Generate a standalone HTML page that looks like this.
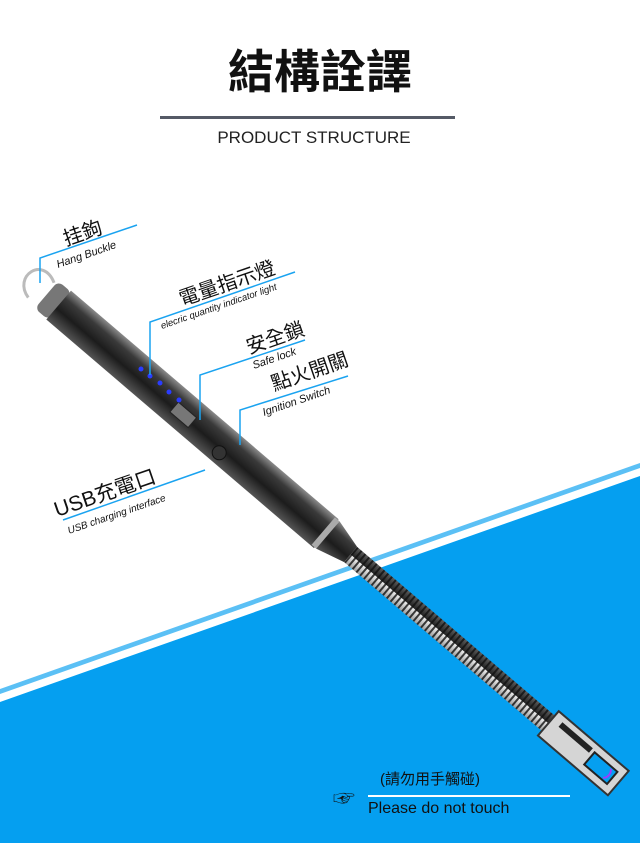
<!DOCTYPE html>
<html><head><meta charset="utf-8"><style>
body{margin:0;width:640px;height:848px;overflow:hidden;background:#fff;font-family:"Liberation Sans","Noto Sans CJK TC",sans-serif}
</style></head><body>
<svg width="640" height="848" viewBox="0 0 640 848" xmlns="http://www.w3.org/2000/svg">
<defs>
<linearGradient id="bd" x1="0" y1="0" x2="0" y2="1">
<stop offset="0" stop-color="#8a8a8a"/><stop offset="0.25" stop-color="#3a3a3a"/><stop offset="0.6" stop-color="#1c1c1c"/><stop offset="1" stop-color="#555"/></linearGradient>
<linearGradient id="sp" x1="0" y1="0" x2="0" y2="1">
<stop offset="0" stop-color="#eee"/><stop offset="0.5" stop-color="#777"/><stop offset="1" stop-color="#222"/></linearGradient>
<pattern id="coil" width="5" height="30" patternUnits="userSpaceOnUse">
<rect width="5" height="30" fill="url(#sp)"/><rect x="3" width="2" height="30" fill="#111" opacity="0.8"/></pattern>
</defs>
<polygon points="0,689 640,463 640,468 0,694" fill="#5bc0f5"/>
<polygon points="0,702 640,476 640,843 0,843" fill="#059ff0"/>
<text x="320" y="88" text-anchor="middle" font-size="46" font-weight="bold" fill="#111">結構詮譯</text>
<rect x="160" y="116" width="295" height="3" fill="#555a66"/>
<text x="314" y="143" text-anchor="middle" font-size="17" fill="#222">PRODUCT STRUCTURE</text>
<g transform="translate(48,296) rotate(40.5)">
<path d="M-4,-14 C-30,-28 -40,8 -14,14" fill="none" stroke="#bbb" stroke-width="3"/>
<rect x="-2" y="-18" width="18" height="36" rx="6" fill="#777"/>
<rect x="14" y="-19" width="352" height="38" fill="url(#bd)"/>
<rect x="362" y="-18" width="6" height="36" fill="#aaa"/>
<polygon points="368,-18 398,-10 398,10 368,18" fill="url(#bd)"/>
<rect x="398" y="-10" width="262" height="20" fill="url(#coil)"/>
<rect x="658" y="-16" width="92" height="32" fill="#d5d5d5" stroke="#333" stroke-width="2"/>
<rect x="668" y="-10" width="40" height="6" fill="#222"/>
<rect x="712" y="-8" width="30" height="16" fill="#059ff0" stroke="#222" stroke-width="2"/>
<path d="M735,-6 a8,8 0 0 1 0,12" stroke="#9b3cff" stroke-width="2" fill="none"/>
<rect x="168" y="-4" width="24" height="13" fill="#777" stroke="#222"/>
<circle cx="232" cy="8" r="7" fill="#333" stroke="#111"/>
</g>
<g fill="#2a3cff"><circle cx="141" cy="369" r="2.5"/><circle cx="150" cy="376" r="2.5"/><circle cx="160" cy="383" r="2.5"/><circle cx="169" cy="392" r="2.5"/><circle cx="179" cy="400" r="2.5"/></g>
<g stroke="#1aa3f0" stroke-width="1.5" fill="none">
<polyline points="40,283 40,258 137,225"/>
<polyline points="150,375 150,322 295,272"/>
<polyline points="200,420 200,375 305,340"/>
<polyline points="240,445 240,410 348,376"/>
<line x1="205" y1="470" x2="63" y2="520"/>
</g>
<g fill="#111">
<text transform="translate(66,246) rotate(-19)" font-size="20">挂鉤</text>
<text transform="translate(58,268) rotate(-19)" font-size="11" font-style="italic">Hang Buckle</text>
<text transform="translate(182,306) rotate(-19)" font-size="20">電量指示燈</text>
<text transform="translate(162,329) rotate(-19)" font-size="9.5" font-style="italic">elecric quantity indicator light</text>
<text transform="translate(249,354) rotate(-19)" font-size="20">安全鎖</text>
<text transform="translate(254,369) rotate(-19)" font-size="11" font-style="italic">Safe lock</text>
<text transform="translate(274,391) rotate(-19)" font-size="20">點火開關</text>
<text transform="translate(264,416) rotate(-19)" font-size="11" font-style="italic">Ignition Switch</text>
<text transform="translate(57,517) rotate(-19)" font-size="21">USB充電口</text>
<text transform="translate(69,534) rotate(-19)" font-size="10" font-style="italic">USB charging interface</text>
<text x="380" y="784" font-size="15">(請勿用手觸碰)</text>
<text x="368" y="813" font-size="16">Please do not touch</text>
<text x="333" y="806" font-size="22">☞</text>
</g>
<line x1="368" y1="796" x2="570" y2="796" stroke="#fff" stroke-width="2"/>
</svg>
</body></html>
